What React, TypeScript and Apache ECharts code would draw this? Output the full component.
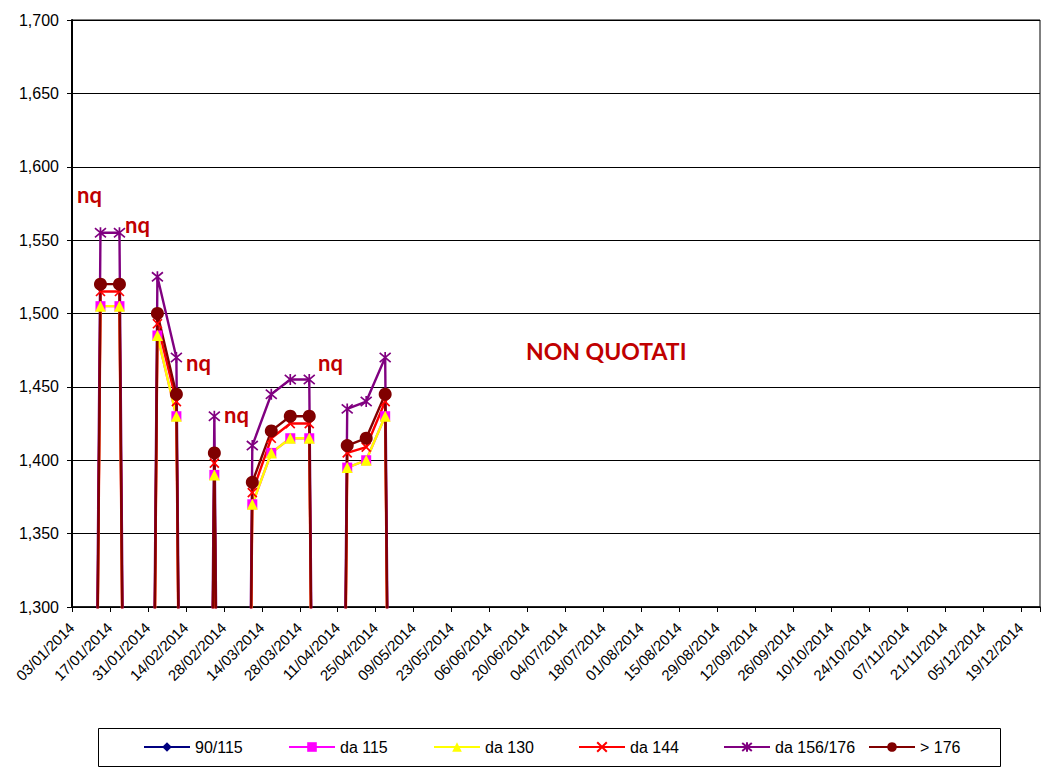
import React, { useEffect, useRef } from "react";
import * as echarts from "echarts";

const categories: string[] = [
  "03/01/2014", "10/01/2014", "17/01/2014", "24/01/2014", "31/01/2014",
  "07/02/2014", "14/02/2014", "21/02/2014", "28/02/2014",
  "07/03/2014", "14/03/2014", "21/03/2014", "28/03/2014",
  "04/04/2014", "11/04/2014", "18/04/2014", "25/04/2014",
  "02/05/2014", "09/05/2014", "16/05/2014", "23/05/2014", "30/05/2014",
  "06/06/2014", "13/06/2014", "20/06/2014", "27/06/2014",
  "04/07/2014", "11/07/2014", "18/07/2014", "25/07/2014",
  "01/08/2014", "08/08/2014", "15/08/2014", "22/08/2014", "29/08/2014",
  "05/09/2014", "12/09/2014", "19/09/2014", "26/09/2014",
  "03/10/2014", "10/10/2014", "17/10/2014", "24/10/2014", "31/10/2014",
  "07/11/2014", "14/11/2014", "21/11/2014", "28/11/2014",
  "05/12/2014", "12/12/2014", "19/12/2014",
];

// Non-quoted weeks are plotted as 0 (they fall far below the axis minimum).
const s90_115: (number | null)[] = [];
const sDa115: number[] = [0, 1505, 1505, 0, 1485, 1430, 0, 1390, 0, 1370, 1405, 1415, 1415, 0, 1395, 1400, 1430, 0];
const sDa130: number[] = [0, 1505, 1505, 0, 1485, 1430, 0, 1390, 0, 1370, 1405, 1415, 1415, 0, 1395, 1400, 1430, 0];
const sDa144: number[] = [0, 1515, 1515, 0, 1493, 1440, 0, 1398, 0, 1378, 1415, 1425, 1425, 0, 1405, 1409, 1440, 0];
const sDa156: number[] = [0, 1555, 1555, 0, 1525, 1470, 0, 1430, 0, 1410, 1445, 1455, 1455, 0, 1435, 1440, 1470, 0];
const sOver176: number[] = [0, 1520, 1520, 0, 1500, 1445, 0, 1405, 0, 1385, 1420, 1430, 1430, 0, 1410, 1415, 1445, 0];

const seriesNames: string[] = ["90/115", "da 115", "da 130", "da 144", "da 156/176", "> 176"];

const nqLabels: string[] = ["nq", "nq", "nq", "nq", "nq"];
const bigNote = "NON QUOTATI";

const X_PATH = "path://M0,0L10,10M10,0L0,10";
const STAR_PATH = "path://M0,0L10,10M10,0L0,10M5,-1L5,11";

export default function App() {
  const ref = useRef<HTMLDivElement>(null);

  useEffect(() => {
    if (!ref.current) return;
    const chart = echarts.init(ref.current, undefined, { renderer: "svg" });
    const font = "'Liberation Sans', Arial, sans-serif";
    const annFont = "Lato, 'Open Sans', sans-serif";
    const annColor = "#C00000";

    const mk = (
      name: string,
      data: (number | null)[],
      color: string,
      symbol: string,
      symbolSize: number,
      stroked: boolean
    ) => ({
      name,
      type: "line",
      data,
      symbol,
      symbolSize,
      showAllSymbol: true,
      clip: true,
      lineStyle: { color, width: 2.4 },
      itemStyle: stroked
        ? { color, borderColor: color, borderWidth: 1.7 }
        : { color, borderWidth: 0 },
      emphasis: { disabled: true },
    });

    const nqPos = [
      [77, 203],
      [125, 233],
      [186, 371],
      [224, 423],
      [318, 371],
    ];

    const legendLeft0 = 143;
    const legendStep = 145;

    chart.setOption({
      animation: false,
      backgroundColor: "#ffffff",
      grid: {
        left: 72,
        right: 8,
        top: 20,
        bottom: 169,
        show: true,
        borderColor: "#000",
        borderWidth: 1,
        backgroundColor: "transparent",
      },
      xAxis: {
        type: "category",
        data: categories,
        boundaryGap: true,
        axisLine: { lineStyle: { color: "#000", width: 1.5 } },
        axisTick: { show: true, interval: 1, length: 5, lineStyle: { color: "#000" } },
        axisLabel: {
          interval: 1,
          rotate: 45,
          margin: 8,
          padding: [0, 14, 0, 0],
          color: "#000",
          fontSize: 15,
          fontFamily: font,
        },
        splitLine: { show: false },
      },
      yAxis: {
        type: "value",
        min: 1300,
        max: 1700,
        interval: 50,
        axisLine: { show: true, lineStyle: { color: "#000", width: 2 } },
        axisTick: { show: true, length: 5, lineStyle: { color: "#000" } },
        axisLabel: {
          color: "#000",
          fontSize: 16,
          fontFamily: font,
          margin: 13,
          formatter: (v: number) => v.toLocaleString("en-US"),
        },
        splitLine: { show: true, lineStyle: { color: "#000", width: 1 } },
      },
      legend: seriesNames.map((n, i) => ({
        data: [n],
        left: legendLeft0 + legendStep * i,
        top: 739,
        padding: 0,
        itemGap: 0,
        itemWidth: 46,
        itemHeight: 12,
        selectedMode: false,
        textStyle: { color: "#000", fontSize: 16, fontFamily: font },
      })),
      series: [
        mk(seriesNames[0], s90_115, "#000080", "diamond", 9, false),
        mk(seriesNames[1], sDa115, "#FF00FF", "rect", 10, false),
        mk(seriesNames[2], sDa130, "#FFFF00", "triangle", 11, false),
        mk(seriesNames[3], sDa144, "#FF0000", X_PATH, 9, true),
        mk(seriesNames[4], sDa156, "#800080", STAR_PATH, 11, true),
        mk(seriesNames[5], sOver176, "#800000", "circle", 13, false),
      ],
      graphic: [
        {
          type: "rect",
          shape: { x: 98.5, y: 728.5, width: 902, height: 38 },
          style: { fill: "none", stroke: "#000", lineWidth: 1 },
          z: 10,
        },
        ...nqLabels.map((t, i) => ({
          type: "text",
          left: nqPos[i][0],
          top: nqPos[i][1] - 20,
          style: {
            text: t,
            fill: annColor,
            font: `bold 22px ${annFont}`,
          },
          z: 100,
        })),
        {
          type: "text",
          left: 526,
          top: 363 - 24,
          style: {
            text: bigNote,
            fill: annColor,
            font: `bold 23px ${annFont}`,
          },
          z: 100,
        },
      ],
    });

    return () => chart.dispose();
  }, []);

  return (
    <div
      ref={ref}
      style={{ position: "fixed", left: 0, top: 0, width: 1048, height: 776, background: "#fff" }}
    />
  );
}
